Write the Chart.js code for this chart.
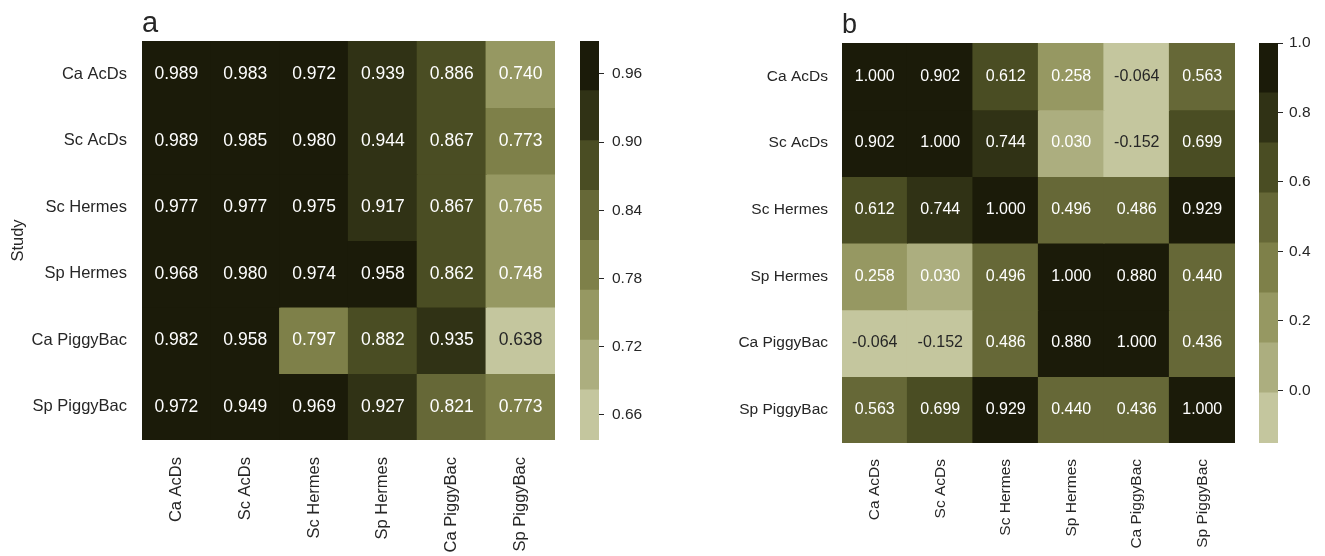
<!DOCTYPE html>
<html>
<head>
<meta charset="utf-8">
<script src="https://cdn.jsdelivr.net/npm/chart.js@4/dist/chart.umd.min.js"></script>
<style>
  html, body { margin: 0; padding: 0; background: #ffffff; }
  #wrap { position: relative; width: 1325px; height: 556px; overflow: hidden; }
  #wrap canvas { position: absolute; top: 0; }
</style>
</head>
<body>
<div id="wrap">
  <canvas id="heatA" width="570" height="556" style="left:0px"></canvas>
  <canvas id="barA" width="79" height="556" style="left:580px"></canvas>
  <canvas id="heatB" width="550" height="556" style="left:700px"></canvas>
  <canvas id="barB" width="66" height="556" style="left:1259px"></canvas>
</div>
<script>
// Study labels, shared by rows and columns of both panels
const STUDIES = ['Ca AcDs', 'Sc AcDs', 'Sc Hermes', 'Sp Hermes', 'Ca PiggyBac', 'Sp PiggyBac'];

// Panel a: pairwise values
const VALUES_A = [
  [0.989, 0.983, 0.972, 0.939, 0.886, 0.740],
  [0.989, 0.985, 0.980, 0.944, 0.867, 0.773],
  [0.977, 0.977, 0.975, 0.917, 0.867, 0.765],
  [0.968, 0.980, 0.974, 0.958, 0.862, 0.748],
  [0.982, 0.958, 0.797, 0.882, 0.935, 0.638],
  [0.972, 0.949, 0.969, 0.927, 0.821, 0.773]
];

// Panel b: correlation matrix
const VALUES_B = [
  [ 1.000,  0.902, 0.612, 0.258, -0.064, 0.563],
  [ 0.902,  1.000, 0.744, 0.030, -0.152, 0.699],
  [ 0.612,  0.744, 1.000, 0.496,  0.486, 0.929],
  [ 0.258,  0.030, 0.496, 1.000,  0.880, 0.440],
  [-0.064, -0.152, 0.486, 0.880,  1.000, 0.436],
  [ 0.563,  0.699, 0.929, 0.440,  0.436, 1.000]
];

// Colour-bar tick values
const TICKS_A = [0.66, 0.72, 0.78, 0.84, 0.90, 0.96];
const TICKS_B = [0.0, 0.2, 0.4, 0.6, 0.8, 1.0];

// Discrete olive palette, light to dark (8 levels)
const PALETTE = ['#c4c69e', '#acae7f', '#969862', '#7e8049', '#666837', '#4a4d23', '#303215', '#1b1b09'];

const FONT = '"Liberation Sans", Arial, Helvetica, sans-serif';
const INK = '#262626';

function range(values) {
  const flat = values.flat();
  return [Math.min(...flat), Math.max(...flat)];
}

function levelOf(v, lo, hi) {
  const n = PALETTE.length;
  return Math.max(0, Math.min(n - 1, Math.floor((v - lo) / (hi - lo) * n)));
}

// Writes each cell's value in its centre
const cellText = {
  id: 'cellText',
  afterDatasetsDraw(chart, args, opts) {
    const ctx = chart.ctx;
    ctx.save();
    ctx.font = opts.size + 'px ' + FONT;
    ctx.textAlign = 'center';
    ctx.textBaseline = 'middle';
    chart.data.datasets.forEach((ds, r) => {
      const meta = chart.getDatasetMeta(r);
      meta.data.forEach((el, c) => {
        const v = ds.values[c];
        ctx.fillStyle = levelOf(v, opts.lo, opts.hi) === 0 ? INK : '#ffffff';
        ctx.fillText(v.toFixed(3), el.x, (el.y + el.base) / 2);
      });
    });
    ctx.restore();
  }
};

// Panel letter above the top-left corner of the plot area
const panelLetter = {
  id: 'panelLetter',
  afterDraw(chart, args, opts) {
    const ctx = chart.ctx;
    ctx.save();
    ctx.font = opts.size + 'px ' + FONT;
    ctx.fillStyle = INK;
    ctx.textAlign = 'left';
    ctx.textBaseline = 'alphabetic';
    ctx.fillText(opts.text, chart.chartArea.left, opts.baseline);
    ctx.restore();
  }
};

function heatmap(id, values, o) {
  const [lo, hi] = range(values);
  const datasets = STUDIES.map((name, r) => ({
    label: name,
    values: values[r],
    data: values[r].map(() => [r, r + 1]),
    backgroundColor: values[r].map(v => PALETTE[levelOf(v, lo, hi)]),
    borderWidth: 0,
    inflateAmount: 0.6,
    grouped: false,
    barPercentage: 1,
    categoryPercentage: 1
  }));
  return new Chart(document.getElementById(id), {
    type: 'bar',
    data: { labels: STUDIES, datasets },
    plugins: [cellText, panelLetter],
    options: {
      responsive: false,
      animation: false,
      devicePixelRatio: 1,
      layout: { padding: { top: o.top, right: o.right, bottom: 0, left: 0 } },
      plugins: {
        legend: { display: false },
        tooltip: { enabled: false },
        cellText: { lo, hi, size: o.cellFont },
        panelLetter: { text: o.letter, size: o.letterFont, baseline: o.letterBaseline }
      },
      scales: {
        x: {
          type: 'category',
          offset: true,
          grid: { display: false, drawTicks: false },
          border: { display: false },
          ticks: {
            autoSkip: false, minRotation: 90, maxRotation: 90,
            padding: o.xPad, color: INK, font: { family: FONT, size: o.tickFont }
          },
          afterFit(s) { s.height = o.xHeight; }
        },
        y: {
          type: 'linear',
          min: 0, max: STUDIES.length,
          reverse: true,
          grid: { display: false, drawTicks: false },
          border: { display: false },
          afterBuildTicks(s) { s.ticks = STUDIES.map((_, i) => ({ value: i + 0.5 })); },
          ticks: {
            callback: (v, i) => STUDIES[i],
            padding: o.yPad, color: INK, font: { family: FONT, size: o.tickFont }
          },
          title: o.yTitle ? {
            display: true, text: o.yTitle, color: INK,
            font: { family: FONT, size: o.tickFont },
            padding: { top: 9, bottom: 0 }
          } : { display: false },
          afterFit(s) { s.width = o.yWidth; }
        }
      }
    }
  });
}

function colorbar(id, values, ticks, o) {
  const [lo, hi] = range(values);
  const n = PALETTE.length;
  const step = (hi - lo) / n;
  const datasets = PALETTE.map((c, k) => ({
    data: [[lo + k * step, lo + (k + 1) * step]],
    backgroundColor: c,
    borderWidth: 0,
    inflateAmount: 0.6,
    grouped: false,
    barPercentage: 1,
    categoryPercentage: 1
  }));
  return new Chart(document.getElementById(id), {
    type: 'bar',
    data: { labels: [''], datasets },
    options: {
      responsive: false,
      animation: false,
      devicePixelRatio: 1,
      layout: { padding: { top: o.top, bottom: o.bottom, left: 0, right: 0 } },
      plugins: { legend: { display: false }, tooltip: { enabled: false } },
      scales: {
        x: { display: false, offset: true },
        y: {
          position: 'right',
          min: lo, max: hi,
          grid: { drawOnChartArea: false, drawTicks: true, tickLength: 5, color: INK, lineWidth: 1 },
          border: { display: false },
          afterBuildTicks(s) { s.ticks = ticks.map(v => ({ value: v })); },
          ticks: {
            callback: v => v.toFixed(o.digits),
            padding: o.pad, color: INK, font: { family: FONT, size: o.font }
          },
          afterFit(s) { s.width = o.width; }
        }
      }
    }
  });
}

heatmap('heatA', VALUES_A, {
  top: 41, right: 15, xHeight: 116, yWidth: 142, xPad: 17, yPad: 15,
  tickFont: 16.5, cellFont: 17.5, yTitle: 'Study',
  letter: 'a', letterFont: 29, letterBaseline: 32
});
colorbar('barA', VALUES_A, TICKS_A, { top: 41, bottom: 116, width: 60, pad: 8, font: 15.5, digits: 2 });

heatmap('heatB', VALUES_B, {
  top: 43, right: 15, xHeight: 113, yWidth: 142, xPad: 16, yPad: 14,
  tickFont: 15.5, cellFont: 16, yTitle: null,
  letter: 'b', letterFont: 27, letterBaseline: 33
});
colorbar('barB', VALUES_B, TICKS_B, { top: 43, bottom: 113, width: 47, pad: 6, font: 15.5, digits: 1 });
</script>
</body>
</html>
